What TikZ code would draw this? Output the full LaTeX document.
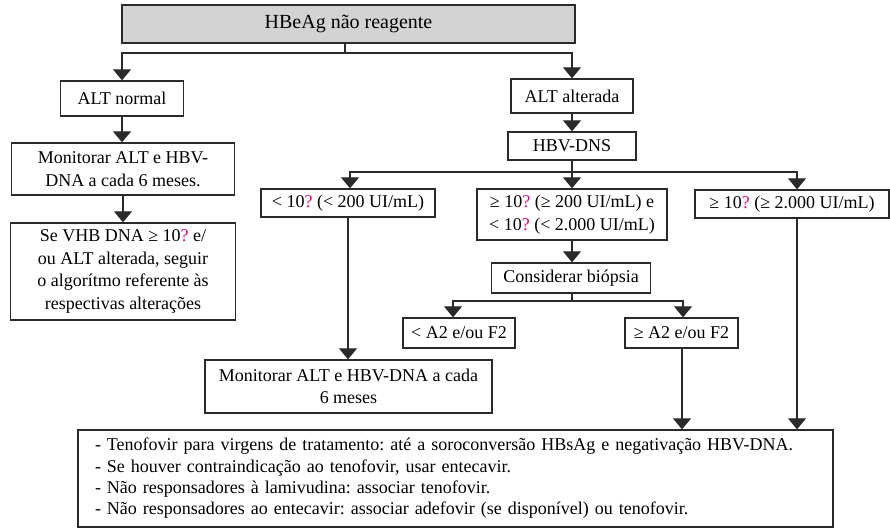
\documentclass[tikz,border=0pt]{standalone}
\usepackage{fontspec}
\setmainfont{Liberation Serif}
\usetikzlibrary{arrows.meta}
\definecolor{qmag}{HTML}{E5007E}
\definecolor{linegray}{HTML}{2A2A2A}
\definecolor{headfill}{HTML}{D3D3D3}
% placeholder glyph for the missing exponent
\newcommand{\pw}{\textcolor{qmag}{?}}

\begin{document}
\frenchspacing
\begin{tikzpicture}[x=1pt,y=-1pt,
  box/.style={draw=linegray, line width=1.3pt, inner sep=0pt, align=center,
    font=\fontsize{18}{22.5}\selectfont},
  flow/.style={draw=linegray, line width=1.1pt, -{Triangle[width=18pt,length=11pt]}},
  link/.style={draw=linegray, line width=1.1pt}]
\useasboundingbox (0,0) rectangle (890,529);

% boxes
\node[box, fill=headfill, minimum width=453, minimum height=38,
  font=\fontsize{20}{24}\selectfont] (top) at (348.5,24) {HBeAg não reagente};
\node[box, minimum width=123, minimum height=35] (altn) at (122,98.5) {ALT normal};
\node[box, minimum width=223, minimum height=52] (mon1) at (123,169)
  {Monitorar ALT e HBV-\\DNA a cada 6 meses.};
\node[box, minimum width=225, minimum height=97] (sevhb) at (123,271.5)
  {Se VHB DNA ≥ 10\pw{} e/\\ou ALT alterada, seguir\\o algorítmo referente às\\respectivas alterações};
\node[box, minimum width=122, minimum height=34] (alta) at (572,96) {ALT alterada};
\node[box, minimum width=128, minimum height=28] (hbv) at (572,146) {HBV-DNS};
\node[box, minimum width=174, minimum height=28] (lt10) at (348,203) {< 10\pw{} (< 200 UI/mL)};
\node[box, minimum width=190, minimum height=51] (mid) at (572,214.5)
  {≥ 10\pw{} (≥ 200 UI/mL) e\\< 10\pw{} (< 2.000 UI/mL)};
\node[box, minimum width=194, minimum height=28] (ge10) at (792,204) {≥ 10\pw{} (≥ 2.000 UI/mL)};
\node[box, minimum width=159, minimum height=30] (cons) at (571,278) {Considerar biópsia};
\node[box, minimum width=112, minimum height=30] (lta2) at (459,333) {< A2 e/ou F2};
\node[box, minimum width=113, minimum height=30] (gea2) at (681.5,333) {≥ A2 e/ou F2};
\node[box, minimum width=287, minimum height=53] (mon2) at (348.5,386.5)
  {Monitorar ALT e HBV-DNA a cada\\6 meses};
\node[box, minimum width=755, minimum height=97, text width=721, align=left,
  inner xsep=17, font=\fontsize{18}{21.3}\selectfont] (trat) at (455.5,478.5)
  {- Tenofovir para virgens de tratamento: até a soroconversão HBsAg e negativação HBV-DNA.\\
   - Se houver contraindicação ao tenofovir, usar entecavir.\\
   - Não responsadores à lamivudina: associar tenofovir.\\
   - Não responsadores ao entecavir: associar adefovir (se disponível) ou tenofovir.};

% junction points
\coordinate (j1) at (345,53);
\coordinate (j2) at (572,172);
\coordinate (j3) at (572,301);

% connectors
\draw[link] (top.south -| j1) -- (j1);
\draw[flow] (j1) -| (altn.north);
\draw[flow] (j1) -| (alta.north);
\draw[flow] (altn.south) -- (altn.south |- mon1.north);
\draw[flow] (mon1.south) -- (mon1.south |- sevhb.north);
\draw[flow] (alta.south) -- (hbv.north);
\draw[link] (hbv.south) -- (j2);
\draw[flow] (j2) -| ([xshift=2]lt10.north);
\draw[flow] (j2) -- (mid.north);
\draw[flow] (j2) -| ([xshift=5]ge10.north);
\draw[flow] (mid.south) -- (mid.south |- cons.north);
\draw[link] (cons.south -| j3) -- (j3);
\draw[flow] (j3) -| ([xshift=-6]lta2.north);
\draw[flow] (j3) -| ([xshift=1.5]gea2.north);
\draw[flow] (lt10.south) -- (lt10.south |- mon2.north);
\draw[flow] ([xshift=0.5]gea2.south) -- ([xshift=0.5]gea2.south |- trat.north);
\draw[flow] ([xshift=5]ge10.south) -- ([xshift=5]ge10.south |- trat.north);
\end{tikzpicture}
\end{document}
